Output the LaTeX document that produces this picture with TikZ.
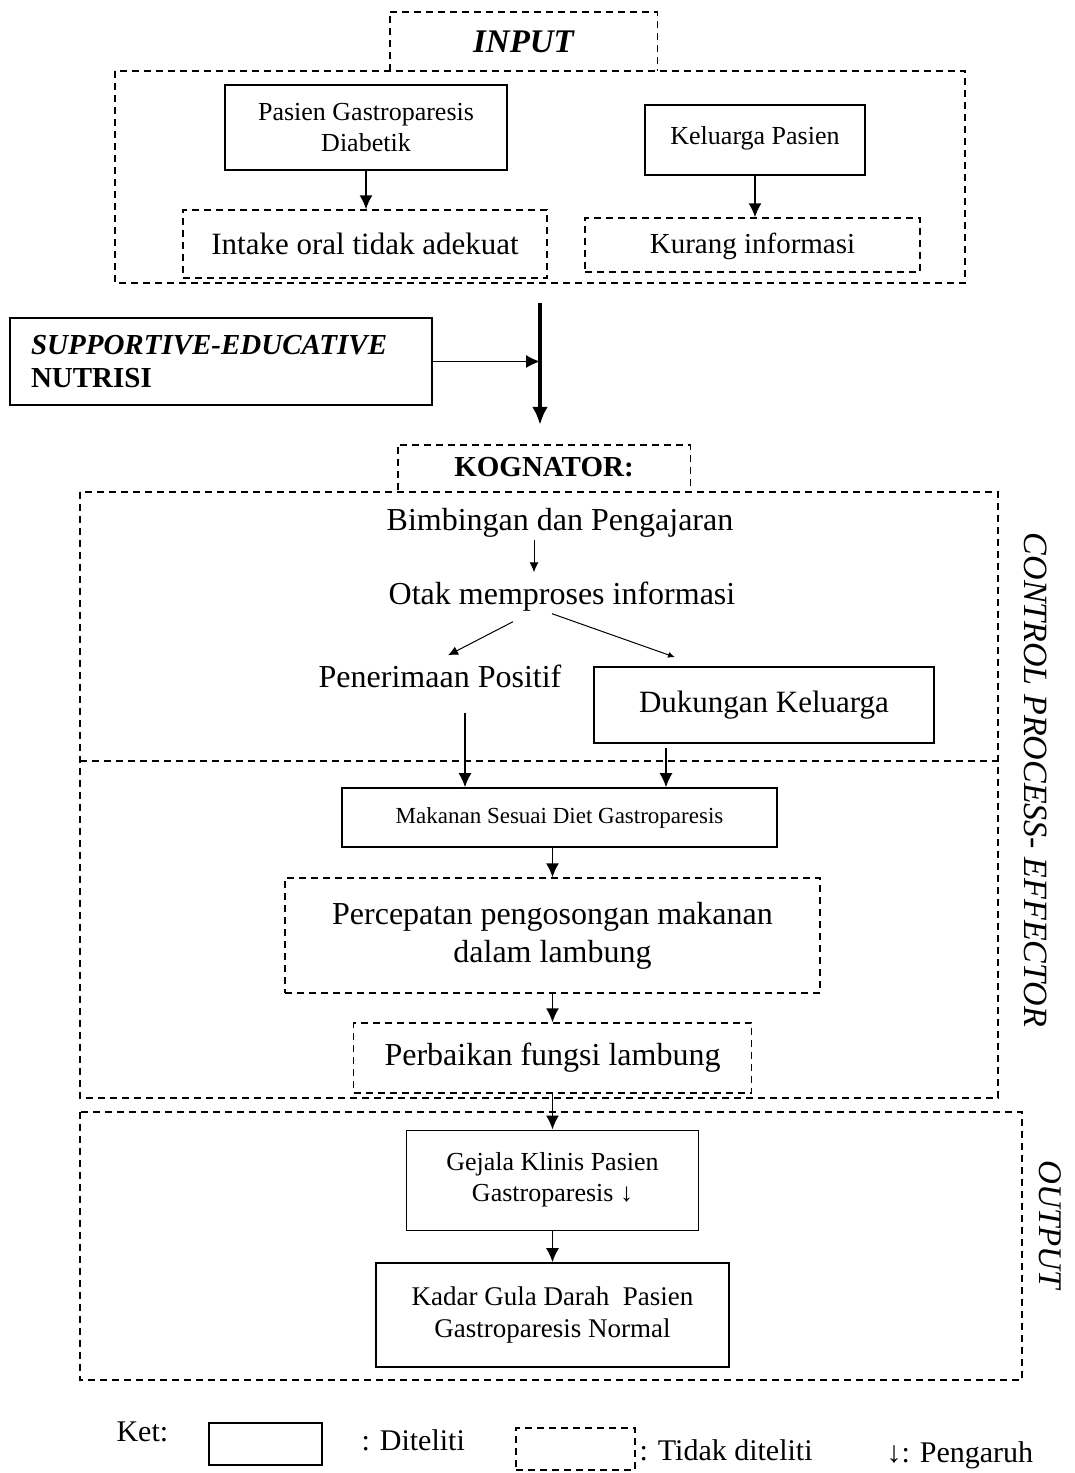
\documentclass[tikz,border=0pt]{standalone}
\usepackage{fontspec}
\setmainfont{Liberation Serif}
\usetikzlibrary{arrows.meta,calc}
\newcommand\fsz[2]{\fontsize{#1pt}{#2pt}\selectfont}

\begin{document}
\begin{tikzpicture}[x=1pt,y=-1pt,
  solidbox/.style={draw, line width=1.6pt, inner sep=0pt, align=center},
  dashbox/.style={draw, line width=1.4pt, dash pattern=on 7pt off 5pt, inner sep=0pt, align=center},
  frame/.style={line width=1.4pt, dash pattern=on 7pt off 5pt},
  arr/.style={line width=1.5pt, -{Latex[length=14pt,width=13pt]}},
  thinarr/.style={line width=1pt, -{Latex[length=10pt,width=9pt]}},
  smallarr/.style={line width=1pt, -{Latex[length=7pt,width=6pt]}},
  lbl/.style={inner sep=2pt, text height=22pt, text depth=7pt},
]
\useasboundingbox (0,0) rectangle (1075,1473);
\fill[white] (0,0) rectangle (1075,1473);

% ---------- input block ----------
\node[inner sep=0pt, minimum width=267pt, minimum height=59pt, font=\fsz{33}{38}\bfseries\itshape] (inp) at (523.5,41.5) {INPUT};
\draw[frame] (inp.south west) |- (inp.north east) -- (inp.south east);
\draw[frame] (115,71) rectangle (965,283);

\node[solidbox, minimum width=282pt, minimum height=85pt, font=\fsz{26}{31}] (pas) at (366,127.5) {Pasien Gastroparesis\\Diabetik};
\node[solidbox, minimum width=220pt, minimum height=70pt, font=\fsz{26}{31}, text depth=10pt] (kel) at (755,140) {Keluarga Pasien};
\node[dashbox, minimum width=364pt, minimum height=68pt, font=\fsz{31}{36}] (int) at (365,244) {Intake oral tidak adekuat};
\node[dashbox, minimum width=335pt, minimum height=54pt, font=\fsz{29}{34}, text height=24pt] (kur) at (752.5,245) {Kurang informasi};
\draw[arr] (pas.south) -- (pas.south |- int.north);
\draw[arr] (kel.south) -- (kel.south |- kur.north);

% ---------- intervention ----------
\coordinate (mtop) at (540,303);
\node[inner sep=0pt, minimum width=292pt, minimum height=45pt, font=\fsz{29}{34}\bfseries] (kog) at (544,467.5) {KOGNATOR:};
\draw[frame] (kog.south west) |- (kog.north east) -- (kog.south east);
\draw[line width=4pt, -{Latex[length=18pt,width=16pt]}, shorten >=20pt] (mtop) -- (mtop |- kog.north);

\node[solidbox, minimum width=422pt, minimum height=87pt, text width=380pt, align=left, font=\fsz{29}{33}\bfseries] (sup) at (221,361.5) {\textit{SUPPORTIVE-EDUCATIVE}\\NUTRISI};
\draw[arr] (sup.east) -- (sup.east -| mtop);

% ---------- control process / output frames ----------
\draw[frame] (80,492) rectangle (998,1098);
\draw[frame] (80,761) -- (998,761);
\draw[frame] (80,1112) rectangle (1022,1380);

% ---------- cognator ----------
\node[lbl, font=\fsz{32}{38}] (bim) at (560,523) {Bimbingan dan Pengajaran};
\node[lbl, font=\fsz{32}{38}] (otk) at (562,597) {Otak memproses informasi};
\draw[thinarr] ([xshift=-26pt]bim.south) -- ([xshift=-28pt,yshift=8pt]otk.north);

\node[lbl, font=\fsz{32}{38}] (pen) at (440,680) {Penerimaan Positif};
\node[solidbox, minimum width=340pt, minimum height=76pt, font=\fsz{31}{36}] (duk) at (764,705) {Dukungan Keluarga};
\draw[thinarr] ([xshift=-49pt,yshift=-8pt]otk.south) -- ([xshift=8pt,yshift=8pt]pen.north);
\draw[smallarr] ([xshift=-10pt]otk.south) -- ([xshift=-89pt,yshift=9pt]duk.north);

% ---------- effector ----------
\node[solidbox, minimum width=435pt, minimum height=59pt, font=\fsz{23}{28}] (mak) at (559.5,817.5) {Makanan Sesuai Diet Gastroparesis};
\draw[arr] ([xshift=25pt,yshift=-16pt]pen.south) -- ([xshift=25pt]pen.south |- mak.north);
\draw[arr] ([xshift=-98pt,yshift=-4pt]duk.south) -- ([xshift=-98pt]duk.south |- mak.north);

\node[dashbox, minimum width=535pt, minimum height=115pt, font=\fsz{32}{38}] (per) at (552.5,935.5) {Percepatan pengosongan makanan\\dalam lambung};
\draw[arr] (per.north |- mak.south) -- (per.north);
\node[dashbox, minimum width=398pt, minimum height=70pt, font=\fsz{32}{38}] (prb) at (552.5,1058) {Perbaikan fungsi lambung};
\draw[arr] (per.south) -- (prb.north);

% ---------- output ----------
\node[solidbox, line width=1pt, minimum width=292pt, minimum height=100pt, font=\fsz{26}{31}] (gej) at (552.5,1180) {Gejala Klinis Pasien\\Gastroparesis ↓};
\draw[arr] (prb.south) -- (gej.north);
\node[solidbox, minimum width=353pt, minimum height=104pt, font=\fsz{27}{32}] (kad) at (552.5,1315) {Kadar Gula Darah~~Pasien\\Gastroparesis Normal};
\draw[arr] (gej.south) -- (kad.north);

% ---------- side labels ----------
\node[rotate=-90, font=\fsz{34}{40}\itshape] (cpe) at (1036,780) {CONTROL PROCESS- EFFECTOR};
\node[rotate=-90, font=\fsz{33}{38}\itshape] (out) at (1050,1225) {OUTPUT};

% ---------- legend ----------
\node[anchor=west, font=\fsz{30}{36}] (ket) at (113,1432) {Ket:};
\node[draw, line width=1.6pt, minimum width=113pt, minimum height=42pt] (legS) at (265.5,1444) {};
\node[anchor=west, font=\fsz{30}{36}] (legSt) at (358,1440) {: Diteliti};
\node[dashbox, minimum width=119pt, minimum height=42pt] (legD) at (575.5,1449) {};
\node[anchor=west, font=\fsz{30}{36}] (legDt) at (636,1450) {: Tidak diteliti};
\node[anchor=west, font=\fsz{30}{36}] (legA) at (883,1455) {↓: Pengaruh};
\end{tikzpicture}
\end{document}
